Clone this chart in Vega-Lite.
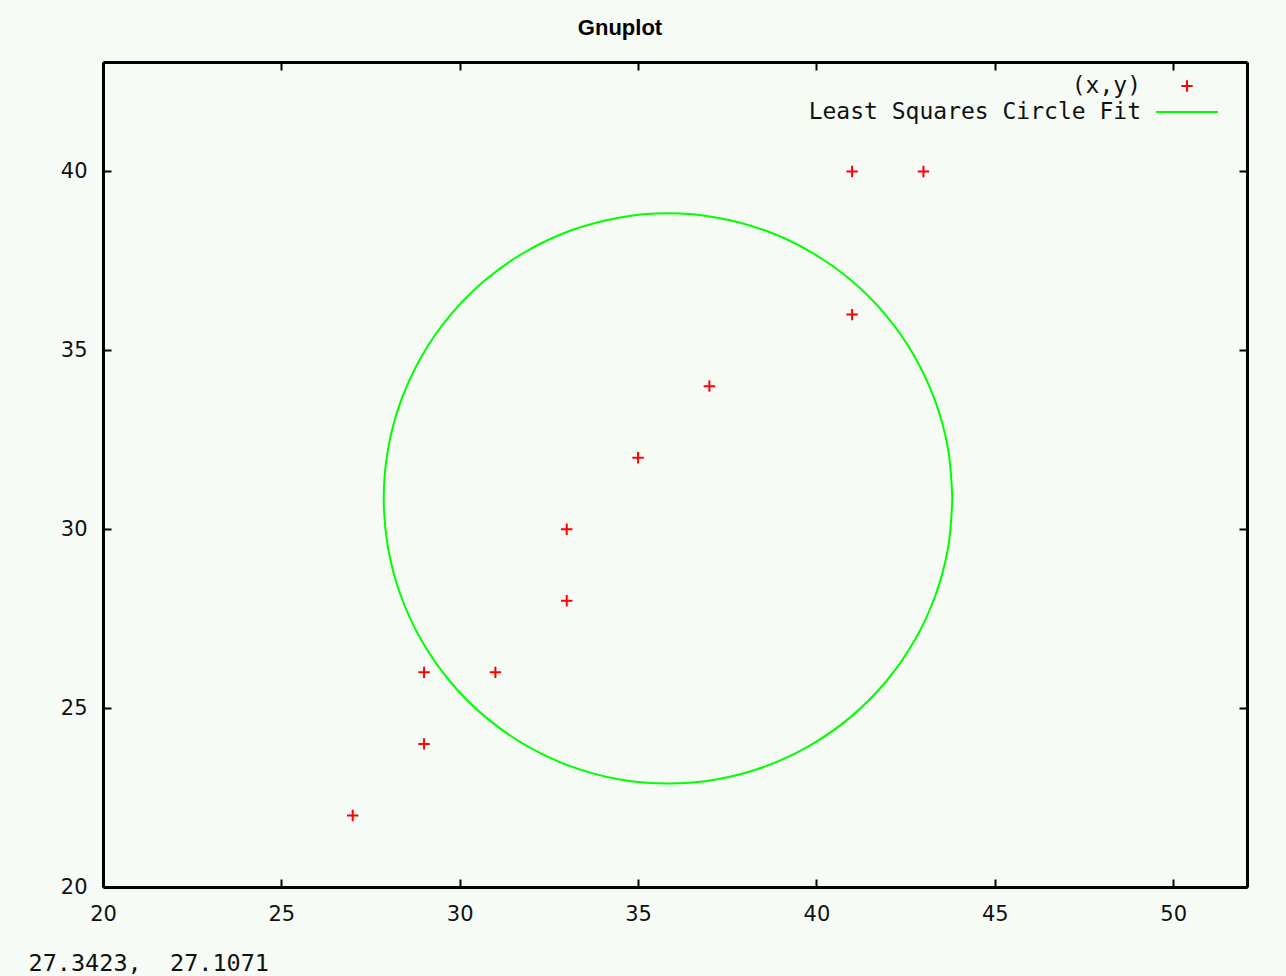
{
  "$schema": "https://vega.github.io/schema/vega-lite/v6.json",
  "width": 1144,
  "height": 825,
  "autosize": {"type": "none"},
  "padding": {"left": 103, "top": 62, "right": 39, "bottom": 89},
  "background": "#f6fbf6",
  "title": {"text": "Gnuplot", "font": "Liberation Sans", "fontWeight": "bold", "fontSize": 22, "color": "#000000", "anchor": "middle", "frame": "group", "dx": -55, "baseline": "alphabetic", "offset": 4},
  "config": {
    "view": {"stroke": null},
    "axis": {
      "domainColor": "#000000", "domainWidth": 3, "tickColor": "#000000", "tickWidth": 2, "tickSize": -8,
      "grid": false, "labelFont": "DejaVu Sans", "labelFontSize": 21, "labelColor": "#111111", "labelFlush": false, "labelOverlap": false
    }
  },
  "layer": [
    {
      "data": {"values": [
        {"a": 0, "x": 43.81, "y": 30.86, "series": "Least Squares Circle Fit"},
        {"a": 10, "x": 43.689, "y": 32.244, "series": "Least Squares Circle Fit"},
        {"a": 20, "x": 43.329, "y": 33.586, "series": "Least Squares Circle Fit"},
        {"a": 30, "x": 42.742, "y": 34.845, "series": "Least Squares Circle Fit"},
        {"a": 40, "x": 41.945, "y": 35.983, "series": "Least Squares Circle Fit"},
        {"a": 50, "x": 40.963, "y": 36.965, "series": "Least Squares Circle Fit"},
        {"a": 60, "x": 39.825, "y": 37.762, "series": "Least Squares Circle Fit"},
        {"a": 70, "x": 38.566, "y": 38.349, "series": "Least Squares Circle Fit"},
        {"a": 80, "x": 37.224, "y": 38.709, "series": "Least Squares Circle Fit"},
        {"a": 90, "x": 35.84, "y": 38.83, "series": "Least Squares Circle Fit"},
        {"a": 100, "x": 34.456, "y": 38.709, "series": "Least Squares Circle Fit"},
        {"a": 110, "x": 33.114, "y": 38.349, "series": "Least Squares Circle Fit"},
        {"a": 120, "x": 31.855, "y": 37.762, "series": "Least Squares Circle Fit"},
        {"a": 130, "x": 30.717, "y": 36.965, "series": "Least Squares Circle Fit"},
        {"a": 140, "x": 29.735, "y": 35.983, "series": "Least Squares Circle Fit"},
        {"a": 150, "x": 28.938, "y": 34.845, "series": "Least Squares Circle Fit"},
        {"a": 160, "x": 28.351, "y": 33.586, "series": "Least Squares Circle Fit"},
        {"a": 170, "x": 27.991, "y": 32.244, "series": "Least Squares Circle Fit"},
        {"a": 180, "x": 27.87, "y": 30.86, "series": "Least Squares Circle Fit"},
        {"a": 190, "x": 27.991, "y": 29.476, "series": "Least Squares Circle Fit"},
        {"a": 200, "x": 28.351, "y": 28.134, "series": "Least Squares Circle Fit"},
        {"a": 210, "x": 28.938, "y": 26.875, "series": "Least Squares Circle Fit"},
        {"a": 220, "x": 29.735, "y": 25.737, "series": "Least Squares Circle Fit"},
        {"a": 230, "x": 30.717, "y": 24.755, "series": "Least Squares Circle Fit"},
        {"a": 240, "x": 31.855, "y": 23.958, "series": "Least Squares Circle Fit"},
        {"a": 250, "x": 33.114, "y": 23.371, "series": "Least Squares Circle Fit"},
        {"a": 260, "x": 34.456, "y": 23.011, "series": "Least Squares Circle Fit"},
        {"a": 270, "x": 35.84, "y": 22.89, "series": "Least Squares Circle Fit"},
        {"a": 280, "x": 37.224, "y": 23.011, "series": "Least Squares Circle Fit"},
        {"a": 290, "x": 38.566, "y": 23.371, "series": "Least Squares Circle Fit"},
        {"a": 300, "x": 39.825, "y": 23.958, "series": "Least Squares Circle Fit"},
        {"a": 310, "x": 40.963, "y": 24.755, "series": "Least Squares Circle Fit"},
        {"a": 320, "x": 41.945, "y": 25.737, "series": "Least Squares Circle Fit"},
        {"a": 330, "x": 42.742, "y": 26.875, "series": "Least Squares Circle Fit"},
        {"a": 340, "x": 43.329, "y": 28.134, "series": "Least Squares Circle Fit"},
        {"a": 350, "x": 43.689, "y": 29.476, "series": "Least Squares Circle Fit"},
        {"a": 360, "x": 43.81, "y": 30.86, "series": "Least Squares Circle Fit"}
      ]},
      "mark": {"type": "line", "strokeWidth": 2, "interpolate": "cardinal", "clip": true},
      "encoding": {
        "x": {"field": "x", "type": "quantitative", "scale": {"domain": [20, 52.07], "nice": false, "zero": false},
              "axis": {"orient": "bottom", "values": [20, 25, 30, 35, 40, 45, 50], "labelPadding": 24, "labelDx": 6,
                       "title": "27.3423,\u00a0\u00a027.1071", "titleFont": "DejaVu Sans Mono", "titleFontSize": 23.5, "titleFontWeight": "normal", "titleColor": "#111111",
                       "titleAnchor": "start", "titleAlign": "left", "titleBaseline": "alphabetic", "titleX": -75, "titleY": 83}},
        "y": {"field": "y", "type": "quantitative", "scale": {"domain": [20, 43.06], "nice": false, "zero": false},
              "axis": {"orient": "left", "values": [20, 25, 30, 35, 40], "labelPadding": 24, "title": null}},
        "order": {"field": "a", "type": "quantitative"},
        "color": {"field": "series", "type": "nominal",
                  "scale": {"domain": ["(x,y)", "Least Squares Circle Fit"], "range": ["#ff0000", "#00ff00"]},
                  "legend": {"orient": "none", "legendX": 1052, "legendY": 11, "padding": 0, "title": null,
                             "symbolType": "stroke", "symbolSize": 130, "symbolStrokeWidth": 2, "rowPadding": 1,
                             "labelAlign": "right", "labelOffset": -78, "labelFont": "DejaVu Sans Mono", "labelFontSize": 23, "labelColor": "#111111", "labelLimit": 600,
                             "encode": {
                               "symbols": {"update": {
                                 "y": {"value": 13},
                                 "shape": {"signal": "datum.value === '(x,y)' ? 'M-1,0H1M0,-1V1' : 'stroke'"},
                                 "size": {"signal": "datum.value === '(x,y)' ? 130 : 3844"},
                                 "fill": {"value": "transparent"},
                                 "strokeWidth": {"value": 2}}},
                               "labels": {"update": {"y": {"value": 13}}}
                             }}}
      }
    },
    {
      "data": {"values": [
        {"x": 27, "y": 22, "series": "(x,y)"},
        {"x": 29, "y": 24, "series": "(x,y)"},
        {"x": 29, "y": 26, "series": "(x,y)"},
        {"x": 31, "y": 26, "series": "(x,y)"},
        {"x": 33, "y": 28, "series": "(x,y)"},
        {"x": 33, "y": 30, "series": "(x,y)"},
        {"x": 35, "y": 32, "series": "(x,y)"},
        {"x": 37, "y": 34, "series": "(x,y)"},
        {"x": 41, "y": 36, "series": "(x,y)"},
        {"x": 41, "y": 40, "series": "(x,y)"},
        {"x": 43, "y": 40, "series": "(x,y)"}
      ]},
      "mark": {"type": "point", "shape": "M-1,0H1M0,-1V1", "filled": false, "strokeWidth": 2, "size": 130, "opacity": 1},
      "encoding": {
        "x": {"field": "x", "type": "quantitative", "axis": {"orient": "top", "values": [20, 25, 30, 35, 40, 45, 50], "labels": false, "title": null}},
        "y": {"field": "y", "type": "quantitative", "axis": {"orient": "right", "values": [20, 25, 30, 35, 40], "labels": false, "title": null}},
        "color": {"field": "series", "type": "nominal"}
      }
    }
  ],
  "resolve": {"axis": {"x": "independent", "y": "independent"}}
}
